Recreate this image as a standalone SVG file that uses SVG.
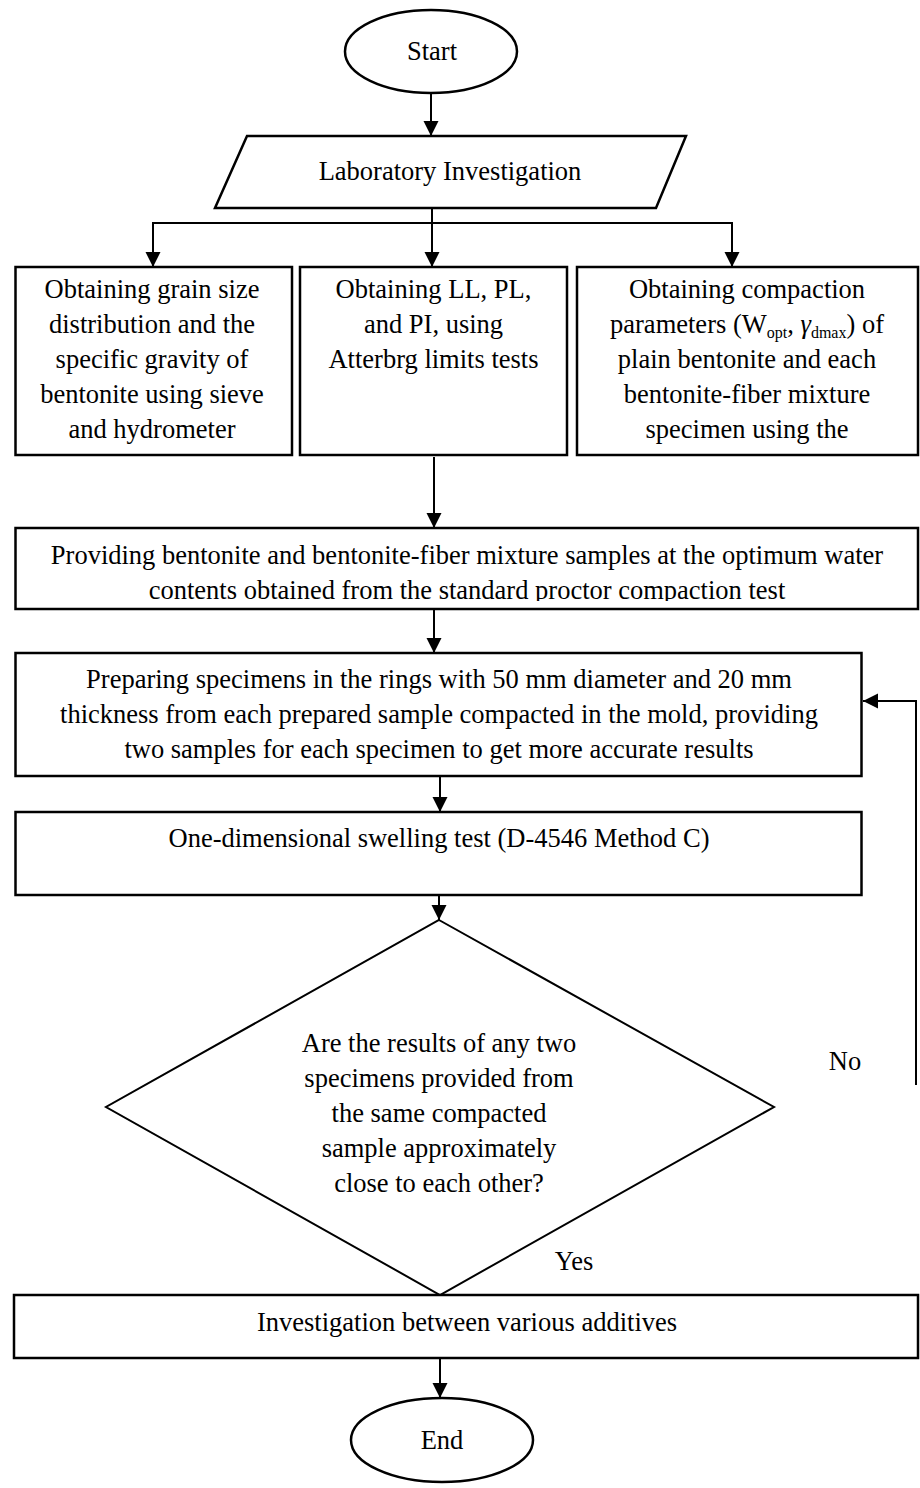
<svg xmlns="http://www.w3.org/2000/svg" width="920" height="1488" viewBox="0 0 920 1488">
<style>
.shape{fill:#fff;stroke:#000;stroke-width:2.5}
.dia{fill:none;stroke:#000;stroke-width:2}
.t{font-family:"Liberation Serif","Times New Roman",serif;font-size:26.5px;fill:#000;text-anchor:middle}
.c{fill:none;stroke:#000;stroke-width:2}
</style>
<defs>
<marker id="ah" markerUnits="userSpaceOnUse" markerWidth="16" markerHeight="16" refX="15" refY="7.5" orient="auto" viewBox="0 0 16 16">
<path d="M0,0 L15,7.5 L0,15 Z" fill="#000"/>
</marker>
<clipPath id="clipProv"><rect x="15" y="528" width="903" height="73"/></clipPath>
<clipPath id="clipDia"><rect x="106" y="920" width="668" height="276"/></clipPath>
</defs>
<rect width="920" height="1488" fill="#fff"/>

<g id="connectors">
<line class="c" x1="431" y1="94" x2="431" y2="136" marker-end="url(#ah)"/>
<line class="c" x1="432" y1="208" x2="432" y2="223"/>
<line class="c" x1="153" y1="223" x2="732" y2="223"/>
<line class="c" x1="153" y1="222" x2="153" y2="267" marker-end="url(#ah)"/>
<line class="c" x1="432" y1="222" x2="432" y2="267" marker-end="url(#ah)"/>
<line class="c" x1="732" y1="222" x2="732" y2="267" marker-end="url(#ah)"/>
<line class="c" x1="434" y1="457" x2="434" y2="528" marker-end="url(#ah)"/>
<line class="c" x1="434" y1="609" x2="434" y2="653" marker-end="url(#ah)"/>
<line class="c" x1="440" y1="776" x2="440" y2="812" marker-end="url(#ah)"/>
<line class="c" x1="439" y1="895" x2="439" y2="920" marker-end="url(#ah)"/>
<polyline class="c" points="916,1085 916,701 863,701" marker-end="url(#ah)"/>
<line class="c" x1="440" y1="1358" x2="440" y2="1398" marker-end="url(#ah)"/>
<text class="t" x="845" y="1070">No</text>
<text class="t" x="574" y="1270">Yes</text>
</g>

<g id="start">
<ellipse class="shape" cx="431" cy="51.5" rx="86" ry="41.5"/>
<text class="t" x="432" y="60">Start</text>
</g>

<g id="lab">
<polygon class="shape" points="247,136 686,136 656,208 215,208"/>
<text class="t" x="450" y="180">Laboratory Investigation</text>
</g>

<g id="grain">
<rect class="shape" x="15.5" y="267" width="276.5" height="188"/>
<text class="t" x="152" y="298">Obtaining grain size</text>
<text class="t" x="152" y="333">distribution and the</text>
<text class="t" x="152" y="368">specific gravity of</text>
<text class="t" x="152" y="403">bentonite using sieve</text>
<text class="t" x="152" y="438">and hydrometer</text>
</g>

<g id="atterberg">
<rect class="shape" x="300" y="267" width="267" height="188"/>
<text class="t" x="433.5" y="298">Obtaining LL, PL,</text>
<text class="t" x="433.5" y="333">and PI, using</text>
<text class="t" x="433.5" y="368">Atterbrg limits tests</text>
</g>

<g id="compaction">
<rect class="shape" x="577" y="267" width="341" height="188"/>
<text class="t" x="747" y="298">Obtaining compaction</text>
<text class="t" x="747" y="333">parameters (W<tspan font-size="16" dy="5">opt</tspan><tspan dy="-5">, </tspan><tspan font-style="italic">γ</tspan><tspan font-size="16" dy="5">dmax</tspan><tspan dy="-5">) of</tspan></text>
<text class="t" x="747" y="368">plain bentonite and each</text>
<text class="t" x="747" y="403">bentonite-fiber mixture</text>
<text class="t" x="747" y="438">specimen using the</text>
</g>

<g id="providing">
<rect class="shape" x="15.5" y="528" width="902.5" height="81"/>
<g clip-path="url(#clipProv)">
<text class="t" x="467" y="564">Providing bentonite and bentonite-fiber mixture samples at the optimum water</text>
<text class="t" x="467" y="599">contents obtained from the standard proctor compaction test</text>
</g>
</g>

<g id="preparing">
<rect class="shape" x="15.5" y="653" width="846" height="123"/>
<text class="t" x="439" y="688">Preparing specimens in the rings with 50 mm diameter and 20 mm</text>
<text class="t" x="439" y="723">thickness from each prepared sample compacted in the mold, providing</text>
<text class="t" x="439" y="758">two samples for each specimen to get more accurate results</text>
</g>

<g id="swelling">
<rect class="shape" x="15.5" y="812" width="846" height="83"/>
<text class="t" x="439" y="847">One-dimensional swelling test (D-4546 Method C)</text>
</g>

<g id="decision">
<polygon class="dia" points="439,920 774,1107 440,1295 106,1107"/>
<g clip-path="url(#clipDia)">
<text class="t" x="439" y="1052">Are the results of any two</text>
<text class="t" x="439" y="1087">specimens provided from</text>
<text class="t" x="439" y="1122">the same compacted</text>
<text class="t" x="439" y="1157">sample approximately</text>
<text class="t" x="439" y="1192">close to each other?</text>
</g>
</g>

<g id="investigation">
<rect class="shape" x="14" y="1295" width="904" height="63"/>
<text class="t" x="467" y="1331">Investigation between various additives</text>
</g>

<g id="end">
<ellipse class="shape" cx="442" cy="1440" rx="91" ry="42"/>
<text class="t" x="442" y="1449">End</text>
</g>
</svg>
